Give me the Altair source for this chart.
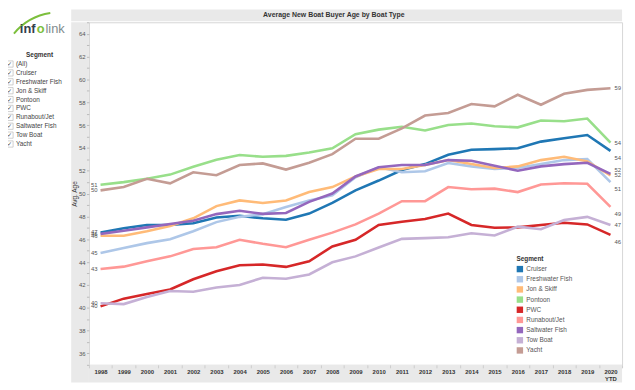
import altair as alt
import pandas as pd

years = ["1998", "1999", "2000", "2001", "2002", "2003", "2004", "2005", "2006",
         "2007", "2008", "2009", "2010", "2011", "2012", "2013", "2014", "2015",
         "2016", "2017", "2018", "2019", "2020 YTD"]

segments = ["Cruiser", "Freshwater Fish", "Jon & Skiff", "Pontoon", "PWC",
            "Runabout/Jet", "Saltwater Fish", "Tow Boat", "Yacht"]
colors = ["#1f77b4", "#aec7e8", "#ffbb78", "#98df8a", "#d62728",
          "#ff9896", "#9467bd", "#c5b0d5", "#c49c94"]

cruiser = [46.6, 46.96, 47.25, 47.25, 47.4, 47.9, 48.05, 47.83, 47.7, 48.25, 49.18, 50.28,
           51.14, 52.06, 52.58, 53.4, 53.83, 53.89, 53.97, 54.55, 54.84, 55.13, 53.74]
freshwater = [44.8, 45.23, 45.66, 46.0, 46.7, 47.5, 47.96, 48.2, 48.83, 49.4, 49.84, 51.43,
              52.3, 51.87, 51.95, 52.67, 52.38, 52.15, 52.24, 52.58, 52.93, 53.02, 51.0]
jon_skiff = [46.3, 46.3, 46.7, 47.16, 47.83, 48.9, 49.4, 49.18, 49.4, 50.13, 50.57, 51.5,
             52.15, 52.15, 52.5, 52.93, 52.58, 52.24, 52.38, 52.93, 53.22, 52.82, 51.58]
pontoon = [50.77, 51.0, 51.3, 51.66, 52.35, 52.96, 53.37, 53.22, 53.3, 53.6, 53.97, 55.2,
           55.6, 55.85, 55.53, 56.0, 56.14, 55.9, 55.8, 56.4, 56.34, 56.57, 54.46]
pwc = [40.12, 40.8, 41.2, 41.6, 42.5, 43.2, 43.73, 43.78, 43.58, 44.07, 45.37, 45.95,
       47.25, 47.53, 47.77, 48.25, 47.25, 47.0, 47.04, 47.25, 47.45, 47.3, 46.38]
runabout = [43.4, 43.6, 44.07, 44.5, 45.14, 45.3, 45.95, 45.6, 45.3, 45.95, 46.58, 47.3,
            48.25, 49.33, 49.33, 50.57, 50.37, 50.43, 50.13, 50.8, 50.9, 50.86, 48.83]
saltwater = [46.47, 46.75, 47.04, 47.33, 47.62, 48.2, 48.5, 48.22, 48.3, 49.27, 50.0, 51.5,
             52.3, 52.5, 52.5, 52.93, 52.87, 52.44, 52.0, 52.38, 52.58, 52.7, 51.72]
tow_boat = [40.4, 40.32, 40.95, 41.47, 41.4, 41.77, 42.0, 42.63, 42.54, 42.92, 43.98, 44.5,
            45.28, 46.03, 46.1, 46.18, 46.53, 46.33, 47.1, 46.87, 47.68, 47.96, 47.25]
yacht = [50.28, 50.57, 51.3, 50.9, 51.86, 51.6, 52.5, 52.64, 52.1, 52.7, 53.45, 54.8,
         54.8, 55.7, 56.83, 57.06, 57.84, 57.64, 58.65, 57.78, 58.74, 59.08, 59.22]

series = [cruiser, freshwater, jon_skiff, pontoon, pwc, runabout, saltwater, tow_boat, yacht]
filter_items = ["(All)"] + segments
title_text = "Average New Boat Buyer Age by Boat Type"

rows = []
for seg, vals in zip(segments, series):
    for yr, v in zip(years, vals):
        rows.append({"Year": yr, "Segment": seg, "Age": v})
df = pd.DataFrame(rows)

FONT = "Liberation Sans"
GRAY_BG = "#e9e9e9"

x_enc = alt.X("Year:N", sort=years,
              scale=alt.Scale(type="band", paddingInner=0, paddingOuter=0),
              axis=alt.Axis(title=None, labelAngle=0, tickBand="extent",
                            labelExpr="split(datum.label, ' ')",
                            labelFontSize=6, labelFontWeight="bold", labelColor="#333",
                            labelLineHeight=7, labelPadding=1, tickSize=3,
                            tickColor="#cccccc", domain=False, zindex=1))
y_enc = alt.Y("Age:Q", scale=alt.Scale(domain=[35, 65], nice=False, zero=False),
              axis=alt.Axis(title="Avg. Age", values=list(range(35, 66)),
                            labelExpr="datum.value % 2 == 0 ? datum.label : ''",
                            labelOverlap=False, labelFontSize=6, labelColor="#555",
                            labelPadding=1.5, tickSize=2.5, tickColor="#bbbbbb",
                            titleFontSize=6.5, titleFontWeight="normal", titleColor="#333",
                            titlePadding=1, domain=False, grid=False, zindex=1))

base = alt.Chart(df)
one = alt.Data(values=[{"k": 1}])

def rect(x1, x2, y1, y2, color):
    return alt.Chart(one).mark_rect(color=color).encode(
        x=alt.value(x1), x2=alt.value(x2), y=alt.value(y1), y2=alt.value(y2))

def label(txt, xv, yv, **kw):
    return alt.Chart(one).mark_text(font=FONT, **kw).encode(
        x=alt.value(xv), y=alt.value(yv), text=alt.value(txt))

layers = [
    rect(-18, 540, -13, -1, GRAY_BG),
    rect(-18, 0, 0, 365, GRAY_BG),
    rect(0, 540, 347, 365, GRAY_BG),
    label(title_text, 248, -7, fontSize=7, fontWeight="bold", color="#333"),
]

# logo
layers.append(alt.Chart(one).mark_arc(color="#7cbf3c").encode(
    x=alt.value(-30), y=alt.value(50), theta=alt.value(5.41), theta2=alt.value(6.13),
    radius=alt.value(59), radius2=alt.value(61)))
layers.append(label("inf", -70, 11, fontSize=13, fontWeight="bold", color="#34404b",
                    align="left", baseline="alphabetic"))
layers.append(label("o", -53, 11, fontSize=13, fontWeight="bold", color="#7cbf3c",
                    align="left", baseline="alphabetic"))
layers.append(label("link", -44, 11, fontSize=13, color="#7f8b8d",
                    align="left", baseline="alphabetic"))

# filter panel
layers.append(label("Segment", -50, 33, fontSize=6.5, fontWeight="bold", color="#333"))
for i, item in enumerate(filter_items):
    yy = 42.3 + 9 * i
    layers.append(alt.Chart(one).mark_square(filled=False, stroke="#a0a0a0",
                                             strokeWidth=0.7, size=40).encode(
        x=alt.value(-80), y=alt.value(yy)))
    layers.append(label("\u2713", -80, yy, fontSize=6, color="#444"))
    layers.append(label(item, -74, yy, fontSize=6.5, color="#444", align="left"))

# lines: stroke colour with a data-derived (sorted) domain, no legend
lines = base.mark_line(strokeWidth=2.6).encode(
    x=x_enc, y=y_enc,
    stroke=alt.Stroke("Segment:N", sort=segments, scale=alt.Scale(range=colors), legend=None),
    order=alt.Order("Year:N"))

# transparent squares that carry the colour legend (explicit domain)
legend_layer = base.mark_square(opacity=0).encode(
    x=x_enc, y=y_enc,
    fill=alt.Fill("Segment:N", scale=alt.Scale(domain=segments, range=colors),
                  legend=alt.Legend(title="Segment", orient="none", legendX=433, legendY=237,
                                    titleFontSize=6.5, titleFontWeight="bold", titleColor="#333",
                                    labelFontSize=6.5, labelColor="#555", symbolType="square",
                                    symbolSize=42, symbolStrokeWidth=0, symbolOpacity=1,
                                    rowPadding=3.3, titlePadding=3, labelOffset=3)))

lab_kw = dict(fontSize=6, color="#555", font=FONT)
left_lab = base.transform_filter(alt.datum.Year == "1998").mark_text(
    align="right", dx=-3, **lab_kw).encode(x=x_enc, y=y_enc, text=alt.Text("Age:Q", format=".0f"))

right0 = ["Yacht", "Pontoon", "Jon & Skiff", "Tow Boat"]
right_down = ["Cruiser", "Freshwater Fish", "Runabout/Jet", "PWC"]
right_up = ["Saltwater Fish"]

def right_lab(names, dy):
    return base.transform_filter(alt.datum.Year == "2020 YTD").transform_filter(
        alt.FieldOneOfPredicate(field="Segment", oneOf=names)).mark_text(
        align="left", dx=4, dy=dy, **lab_kw).encode(
        x=x_enc, y=y_enc, text=alt.Text("Age:Q", format=".0f"))

layers += [lines, legend_layer, left_lab,
           right_lab(right0, 0), right_lab(right_down, 7), right_lab(right_up, -3.5)]

chart = alt.layer(*layers).properties(
    width=540, height=347,
    autosize=alt.AutoSizeParams(type="none"),
    padding={"left": 82, "top": 12, "right": 5, "bottom": 22},
).configure(font=FONT).configure_view(stroke="#d6d6d6", strokeWidth=1)

chart.save("out.html", embed_options={"renderer": "svg", "actions": False})
